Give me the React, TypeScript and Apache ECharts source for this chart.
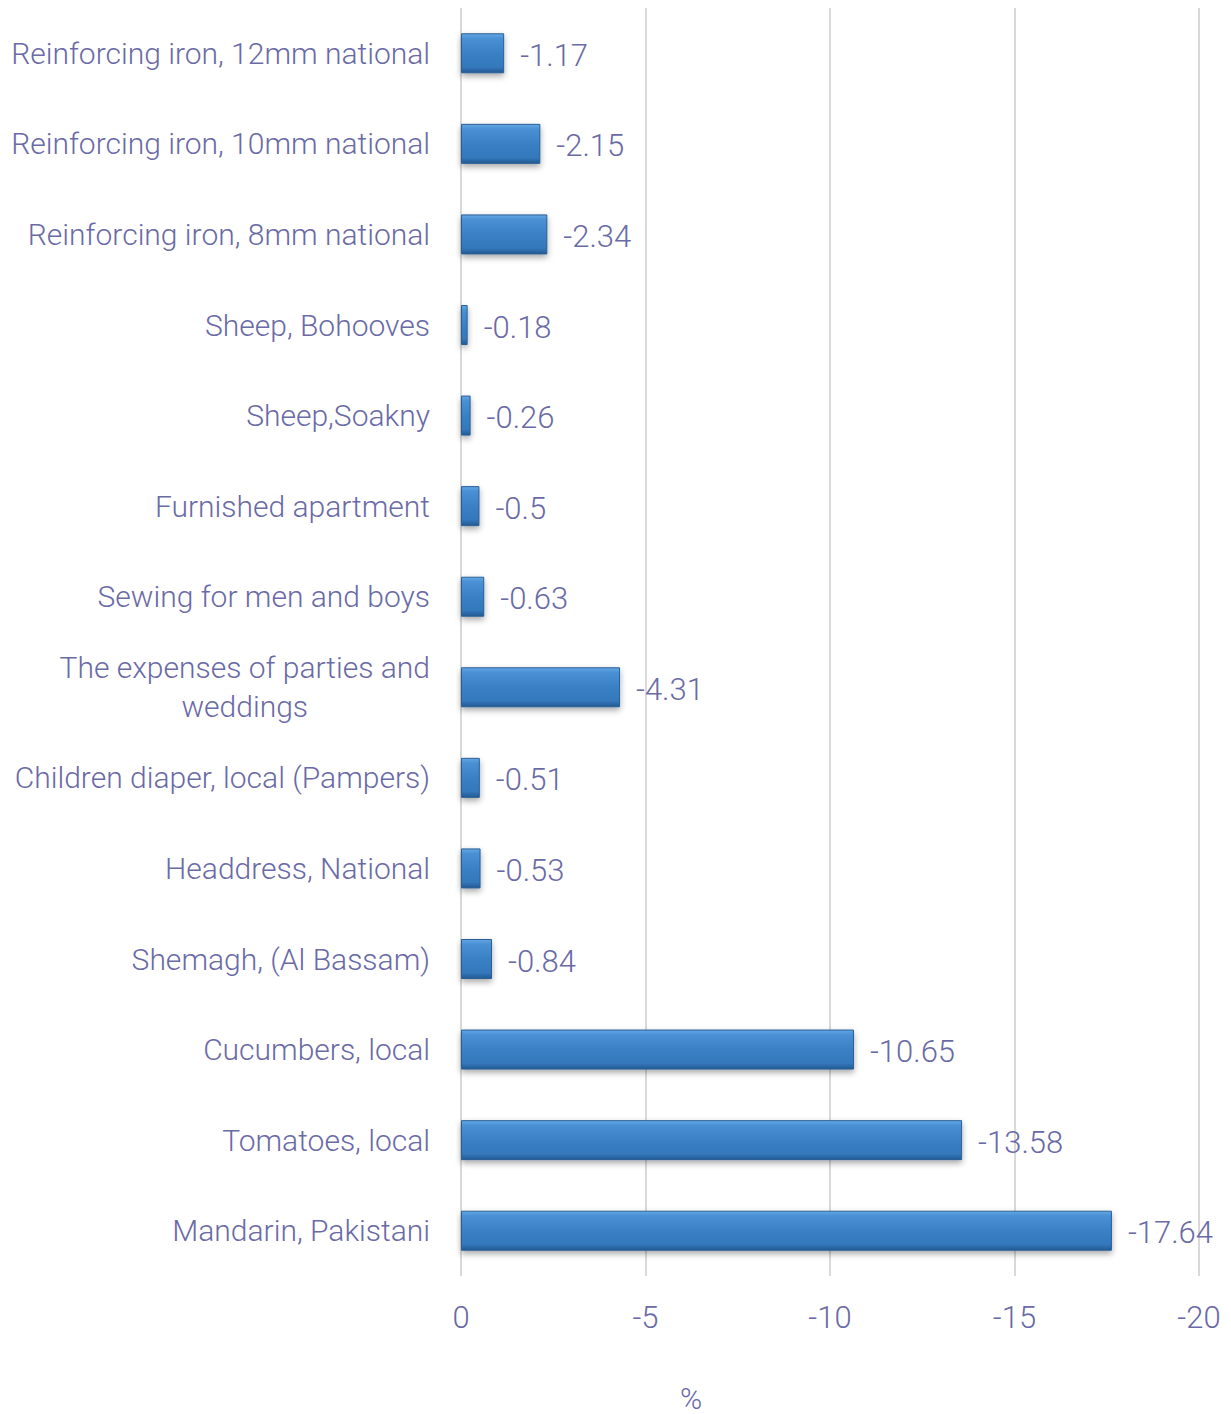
import React, { useEffect, useRef } from "react";
import * as echarts from "echarts";

const categories = [
  "Reinforcing iron, 12mm national",
  "Reinforcing iron, 10mm national",
  "Reinforcing iron, 8mm national",
  "Sheep, Bohooves",
  "Sheep,Soakny",
  "Furnished apartment",
  "Sewing for men and boys",
  "The expenses of parties and\nweddings",
  "Children diaper, local (Pampers)",
  "Headdress, National",
  "Shemagh, (Al Bassam)",
  "Cucumbers, local",
  "Tomatoes, local",
  "Mandarin, Pakistani",
];
const values = [-1.17, -2.15, -2.34, -0.18, -0.26, -0.5, -0.63, -4.31, -0.51, -0.53, -0.84, -10.65, -13.58, -17.64];
const axisTitle = "%";

const TEXT = "#6a6aa6";
const FONT = "Roboto";

export default function App() {
  const ref = useRef<HTMLDivElement>(null);
  useEffect(() => {
    if (!ref.current) return;
    const chart = echarts.init(ref.current, null, { renderer: "svg" });
    chart.setOption({
      animation: false,
      textStyle: { fontFamily: FONT, fontWeight: 300 },
      grid: { left: 461, right: 32, top: 8, bottom: 138, containLabel: false },
      xAxis: {
        type: "value",
        min: -20,
        max: 0,
        interval: 5,
        inverse: true,
        axisLine: { show: false },
        axisTick: { show: false },
        splitLine: { show: true, lineStyle: { color: "#d9d9d9", width: 2 } },
        axisLabel: {
          color: TEXT,
          fontSize: 31,
          fontFamily: FONT,
          fontWeight: 300,
          margin: 26,
        },
      },
      yAxis: {
        type: "category",
        data: categories,
        inverse: true,
        axisLine: { show: false },
        axisTick: { show: false },
        axisLabel: {
          color: TEXT,
          fontSize: 30,
          fontFamily: FONT,
          fontWeight: 300,
          margin: 31,
          lineHeight: 39,
          formatter: (v: string) =>
            v
              .split("\n")
              .map((s) => "{c|" + s + "}")
              .join("\n"),
          rich: {
            c: {
              color: TEXT,
              fontSize: 30,
              fontFamily: FONT,
              fontWeight: 300,
              lineHeight: 39,
              align: "center",
            },
          },
        },
      },
      series: [
        {
          type: "bar",
          data: values,
          barWidth: 40,
          itemStyle: {
            color: new echarts.graphic.LinearGradient(0, 0, 0, 1, [
              { offset: 0, color: "#63a8e6" },
              { offset: 0.12, color: "#4a90d4" },
              { offset: 0.5, color: "#3a80c4" },
              { offset: 0.85, color: "#3478bc" },
              { offset: 1, color: "#235a92" },
            ]),
            borderColor: "#2a5f96",
            borderWidth: 1,
            shadowColor: "rgba(0,0,0,0.35)",
            shadowBlur: 6,
            shadowOffsetY: 3,
          },
          label: {
            show: true,
            position: "right",
            distance: 16,
            color: TEXT,
            fontSize: 31,
            fontFamily: FONT,
            fontWeight: 300,
            offset: [0, 2],
          },
        },
      ],
      graphic: [
        {
          type: "text",
          x: 691,
          y: 1398,
          style: {
            text: axisTitle,
            fill: TEXT,
            fontSize: 30,
            fontFamily: FONT,
            fontWeight: 300,
            textAlign: "center",
            textVerticalAlign: "middle",
          },
        },
      ],
    });
    return () => chart.dispose();
  }, []);
  return <div ref={ref} style={{ width: 1231, height: 1414, position: "absolute", left: 0, top: 0 }} />;
}
